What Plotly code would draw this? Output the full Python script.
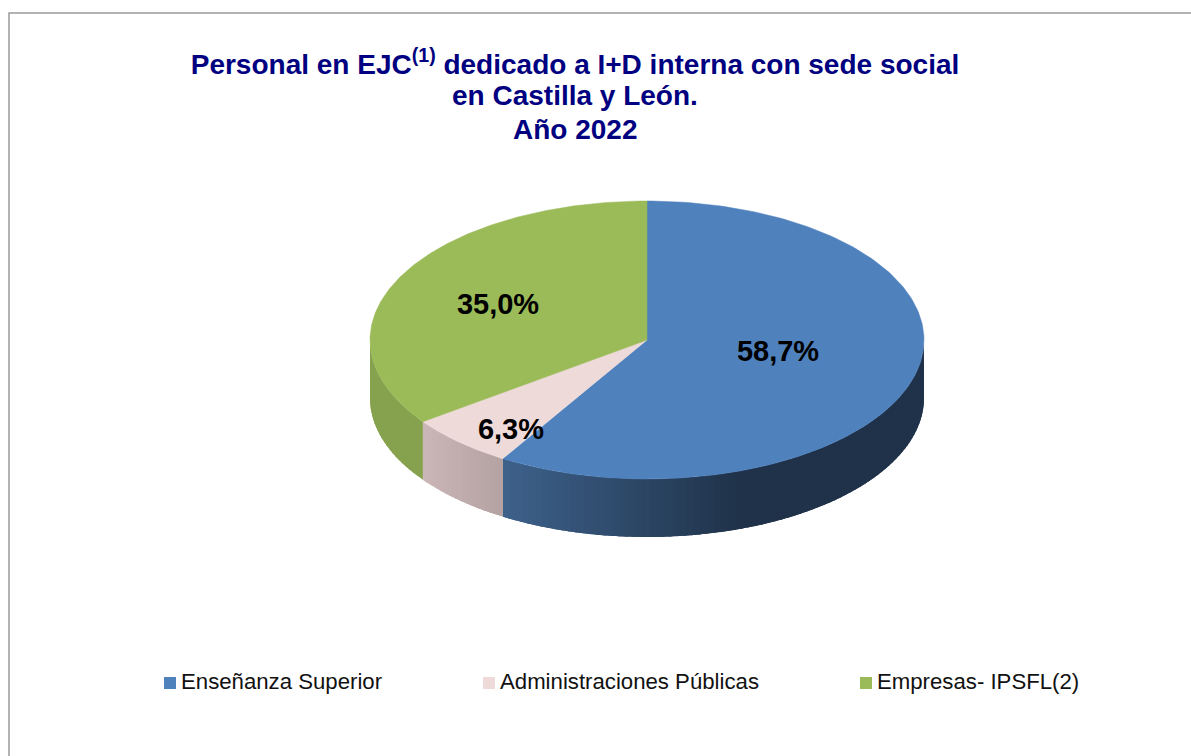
import numpy as np
import plotly.graph_objects as go

categories = ["Enseñanza Superior", "Administraciones Públicas", "Empresas- IPSFL(2)"]
values = [58.7, 6.3, 35.0]
top_colors = ["#4f81bd", "#eedad9", "#9bbb59"]
wall_start = ["#3e628c", "#cbb7b7", "#86a24f"]
wall_end = ["#1f3249", "#b5a2a2", "#86a24f"]
title_lines = ["Personal en EJC<sup>(1)</sup> dedicado a I+D interna con sede social",
               "en Castilla y León.", "Año 2022"]

W, H = 1191, 756
CX, CY, RX, RY, DEPTH = 647, 340, 277, 139, 58
GRAD_END_X = 745
label_xy = [(778, 354), (511, 432), (498, 307)]
legend_marker_x = [170, 489, 866]
legend_text_x = [181, 500, 877]
LEGEND_Y = 683
TITLE_CX = 575
TITLE_Y = [64, 95, 129]
NAVY = "#000080"


def hex2rgb(c):
    return np.array([int(c[i:i + 2], 16) for i in (1, 3, 5)], dtype=float)


def arc(t):
    return CX + RX * np.sin(t), CY - RY * np.cos(t)


fig = go.Figure()
edges = np.radians(np.concatenate([[0], np.cumsum(values)]) * 3.6)

# Walls of the disc (front half only); each strip overlaps the next one to hide seams
for i, cat in enumerate(categories):
    a = max(edges[i], np.pi / 2)
    b = min(edges[i + 1], 3 * np.pi / 2)
    if b <= a:
        continue
    n = max(2, int((b - a) / np.radians(1.5)))
    ts = np.linspace(a, b, n + 1)
    x_a, x_b = arc(a)[0], arc(b)[0]
    left, right = min(x_a, x_b), max(x_a, x_b)
    c0, c1 = hex2rgb(wall_start[i]), hex2rgb(wall_end[i])
    for j in range(n):
        seg = np.linspace(ts[j], min(ts[j + 1] + np.radians(2), b), 6)
        sx, sy = arc(seg)
        px = np.concatenate([sx, sx[::-1], sx[:1]])
        py = np.concatenate([sy, sy[::-1] + DEPTH, sy[:1]])
        span_end = min(right, GRAD_END_X) if left < GRAD_END_X else right
        f = np.clip((arc(ts[j])[0] - left) / max(span_end - left, 1), 0, 1)
        col = c0 + (c1 - c0) * f
        rgb = f"rgb({col[0]:.0f},{col[1]:.0f},{col[2]:.0f})"
        fig.add_trace(go.Scatter(x=px, y=py, mode="lines", fill="toself", fillcolor=rgb,
                                 line=dict(width=0), hoverinfo="skip", showlegend=False))

# Top face
for i, cat in enumerate(categories):
    ts = np.linspace(edges[i], edges[i + 1], 200)
    sx, sy = arc(ts)
    fig.add_trace(go.Scatter(x=np.concatenate([[CX], sx, [CX]]), y=np.concatenate([[CY], sy, [CY]]),
                             mode="lines", fill="toself", fillcolor=top_colors[i],
                             line=dict(color=top_colors[i], width=0.5), name=cat,
                             hovertemplate=f"{cat}: {values[i]:.1f}%<extra></extra>",
                             showlegend=False))

# Data labels
fig.add_trace(go.Scatter(x=[p[0] for p in label_xy], y=[p[1] for p in label_xy], mode="text",
                         text=[f"{v:.1f}%".replace(".", ",") for v in values],
                         textposition="middle center",
                         textfont=dict(family="Liberation Sans", size=29, color="#000000", weight="bold"),
                         hoverinfo="skip", showlegend=False))

# Legend keys
for i, cat in enumerate(categories):
    fig.add_trace(go.Scatter(x=[legend_marker_x[i]], y=[LEGEND_Y], mode="markers",
                             marker=dict(symbol="square", size=12, color=top_colors[i]),
                             hoverinfo="skip", showlegend=False))
    fig.add_trace(go.Scatter(x=[legend_text_x[i]], y=[LEGEND_Y], mode="text",
                             text=[cat], textposition="middle right",
                             textfont=dict(family="Liberation Sans", size=22.2, color="#111111"),
                             hoverinfo="skip", showlegend=False))

title_font = dict(family="Liberation Sans", size=28, color=NAVY, weight="bold")
fig.update_layout(
    width=W, height=H, margin=dict(l=0, r=0, t=0, b=0), paper_bgcolor="#ffffff",
    plot_bgcolor="#ffffff", showlegend=False,
    title=dict(text=title_lines[0], x=TITLE_CX / W, xanchor="center", xref="paper",
               y=1 - TITLE_Y[0] / H, yanchor="middle", font=title_font),
    annotations=[dict(text=t, x=TITLE_CX, y=yy, xref="x", yref="y", showarrow=False,
                      xanchor="center", yanchor="middle", font=title_font)
                 for t, yy in zip(title_lines[1:], TITLE_Y[1:])],
    xaxis=dict(range=[0, W], visible=False, fixedrange=True),
    yaxis=dict(range=[H, 0], visible=False, fixedrange=True),
    shapes=[dict(type="path", path=f"M 9 {H} L 9 13 L {W} 13", xref="x", yref="y",
                 line=dict(color="#999999", width=1.5))],
)
fig.write_html("out.html", post_script="document.body.style.margin='0';",
               config=dict(displayModeBar=False))
